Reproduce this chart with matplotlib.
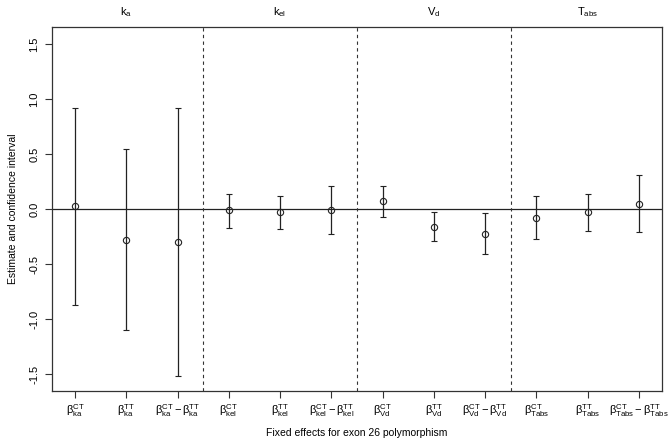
import matplotlib
matplotlib.use("Agg")
import matplotlib.pyplot as plt
from matplotlib.transforms import blended_transform_factory

plt.rcParams['font.family'] = ['Liberation Sans', 'DejaVu Sans']
plt.rcParams['mathtext.fontset'] = 'custom'
plt.rcParams['mathtext.rm'] = 'Liberation Sans'
plt.rcParams['mathtext.it'] = 'Liberation Sans'
plt.rcParams['mathtext.default'] = 'regular'

# Parameter groups and effect labels
groups = ['k$_a$', 'k$_{el}$', 'V$_d$', 'T$_{abs}$']
subs = ['ka', 'kel', 'Vd', 'Tabs']

# estimates and confidence limits
est = [0.03, -0.28, -0.30,
       -0.01, -0.03, -0.01,
       0.07, -0.16, -0.23,
       -0.08, -0.03, 0.05]
lower = [-0.87, -1.10, -1.52,
         -0.17, -0.18, -0.23,
         -0.07, -0.29, -0.41,
         -0.27, -0.20, -0.21]
upper = [0.92, 0.55, 0.92,
         0.14, 0.12, 0.21,
         0.21, -0.03, -0.04,
         0.12, 0.14, 0.31]

labels = []
for s in subs:
    labels.append(r'$\beta^{CT}_{%s}$' % s)
    labels.append(r'$\beta^{TT}_{%s}$' % s)
    labels.append(r'$\beta^{CT}_{%s} - \beta^{TT}_{%s}$' % (s, s))

x = list(range(1, len(est) + 1))
yerr = [[e - l for e, l in zip(est, lower)], [u - e for e, u in zip(est, upper)]]

fig = plt.figure(figsize=(6.72, 4.44), dpi=100)
ax = fig.add_axes([0.0774, 0.1194, 0.9076, 0.8196])

ax.axhline(0, color='#222222', lw=0.9)
for xv in [3.5, 6.5, 9.5]:
    ax.axvline(xv, color='#333333', lw=0.8, ls=(0, (3, 3)))

ax.errorbar(x, est, yerr=yerr, fmt='o', mfc='none', mec='#222222', ms=4.5,
            ecolor='#222222', elinewidth=0.9, capsize=2, capthick=0.9, mew=0.8)

ax.set_xlim(0.55, 12.45)
ax.set_ylim(-1.655, 1.655)
ax.set_xticks(x)
ax.set_xticklabels(labels, fontsize=8)
ax.set_yticks([-1.5, -1.0, -0.5, 0.0, 0.5, 1.0, 1.5])
ax.set_yticklabels(['-1.5', '-1.0', '-0.5', '0.0', '0.5', '1.0', '1.5'],
                   rotation=90, va='center', fontsize=8)
ax.tick_params(direction='out', length=5, width=0.8, color='#333333')
ax.tick_params(axis='x', pad=3)
ax.tick_params(axis='y', pad=4)
for sp in ax.spines.values():
    sp.set_color('#333333')
    sp.set_linewidth(0.9)

# group titles above the box
trans = blended_transform_factory(ax.transData, fig.transFigure)
for i, g in enumerate(groups):
    ax.text(2 + 3 * i, 1 - 12 / 444, g, transform=trans,
            ha='center', va='center', fontsize=8)

fig.text(0.5 * (0.0774 + 0.985), 11 / 444, 'Fixed effects for exon 26 polymorphism',
         ha='center', va='center', fontsize=7.5)
ax.set_ylabel('Estimate and confidence interval', fontsize=7.5, labelpad=8)

fig.savefig('out.png', dpi=100)
